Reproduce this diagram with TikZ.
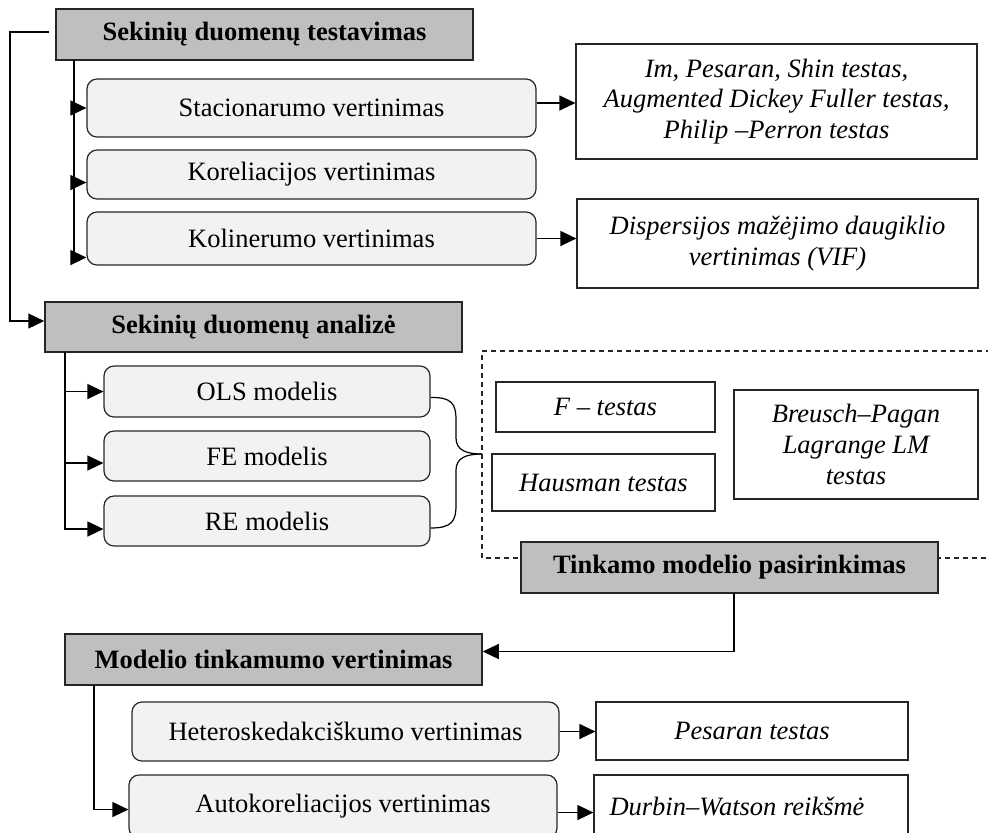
\documentclass[tikz,border=0pt]{standalone}
\usepackage{fontspec}
\setmainfont{Liberation Serif}
\usetikzlibrary{arrows.meta,calc}
\definecolor{headfill}{HTML}{BFBFBF}
\definecolor{stepfill}{HTML}{F2F2F2}
\definecolor{edge}{HTML}{262626}
\newcommand\dsize{\fontsize{13.25}{15.3}\selectfont}
% \pbox{name}{style}{x1}{y1}{x2}{y2}{text}: box spanning two corners
\newcommand\pbox[7]{\node[#2, minimum width={(#5-#3)*0.5pt}, minimum height={(#6-#4)*0.5pt}] (#1) at ({(#3+#5)/2},{(#4+#6)/2}) {#7};}
\begin{document}
\begin{tikzpicture}[x=0.5pt,y=-0.5pt,
  headbox/.style={draw=edge, fill=headfill, line width=0.75pt, inner sep=0pt, font=\dsize\bfseries},
  stepbox/.style={draw=edge, fill=stepfill, rounded corners=5pt, line width=0.6pt, inner sep=0pt, font=\dsize},
  testbox/.style={draw=edge, fill=white, line width=0.6pt, inner sep=0pt, align=center, font=\dsize\itshape},
  conn/.style={draw=black, line width=0.6pt},
  arr/.style={conn, -{Triangle[length=8pt,width=7.5pt]}},
  frame/.style={draw=edge, line width=0.6pt, dash pattern=on 2.5pt off 2pt}]
\useasboundingbox (0,0) rectangle (988,832);

% --- data testing block
\pbox{t1}{headbox}{56}{9}{473}{60}{Sekinių duomenų testavimas}
\pbox{s1}{stepbox}{87}{79}{536}{137}{Stacionarumo vertinimas}
\pbox{s2}{stepbox}{87}{150}{536}{199}{Koreliacijos vertinimas}
\pbox{s3}{stepbox}{87}{212}{536}{265}{Kolinerumo vertinimas}
\pbox{r1}{testbox}{576}{44}{977}{159}{Im, Pesaran, Shin testas,\\Augmented Dickey Fuller testas,\\Philip –Perron testas}
\pbox{r2}{testbox}{577}{199}{978}{288}{Dispersijos mažėjimo daugiklio\\vertinimas (VIF)}

\coordinate (j1) at (74,60);
\draw[arr] (j1) |- (s1.west);
\draw[arr] (j1) |- ([yshift=-4pt]s2.west);
\draw[arr] (j1) |- ([yshift=-9.5pt]s3.west);
\draw[arr] ([yshift=2.5pt]s1.east) -- ([yshift=2.5pt]s1.east -| r1.west);
\draw[arr] (s3.east) -- (s3.east -| r2.west);

% --- data analysis block
\pbox{t2}{headbox}{45}{302}{462}{352}{Sekinių duomenų analizė}
\coordinate (lp) at (49,32);
\draw[arr] (lp) -- (10,32) |- ([yshift=3pt]t2.west);

\pbox{m1}{stepbox}{104}{366}{430}{417}{OLS modelis}
\pbox{m2}{stepbox}{104}{431}{430}{481}{FE modelis}
\pbox{m3}{stepbox}{104}{496}{430}{546}{RE modelis}
\coordinate (j2) at (65,352);
\draw[arr] (j2) |- (m1.west);
\draw[arr] (j2) |- ([yshift=-3.5pt]m2.west);
\draw[arr] (j2) |- ([yshift=-4pt]m3.west);

% model selection tests
\draw[frame] (1000,351) -- (482,351) -- (482,558) -- (1000,558);
\pbox{f}{testbox}{496}{382}{715}{432}{F – testas}
\pbox{h}{testbox}{492}{454}{715}{511}{Hausman testas}
\pbox{b}{testbox}{734}{390}{978}{499}{Breusch–Pagan\\Lagrange LM\\testas}

\coordinate (bt) at (482,454);
\draw[conn] ([yshift=-3pt]m1.east) .. controls (452,397) and (456,404) .. (456,420) -- (456,438) .. controls (456,450) and (466,454) .. (bt);
\draw[conn] ([yshift=-3.5pt]m3.east) .. controls (452,528) and (456,521) .. (456,505) -- (456,470) .. controls (456,458) and (466,454) .. (bt);

\pbox{t3}{headbox}{521}{542}{938}{593}{Tinkamo modelio pasirinkimas}

% --- model adequacy block
\pbox{t4}{headbox}{65}{634}{482}{685}{Modelio tinkamumo vertinimas}
\coordinate (j3) at (734,593);
\draw[arr] (j3) |- ([yshift=4pt]t4.east);

\pbox{e1}{stepbox}{132}{702}{559}{761}{Heteroskedakciškumo vertinimas}
\pbox{e2}{stepbox}{129}{775}{557}{838}{Autokoreliacijos vertinimas}
\pbox{p1}{testbox}{596}{702}{908}{760}{Pesaran testas}
\pbox{p2}{testbox}{594}{775}{908}{838}{\hspace*{-14pt}Durbin–Watson reikšmė}

\coordinate (j4) at (94,685);
\draw[arr] (j4) |- ([yshift=-1.5pt]e2.west);
\draw[arr] (e1.east) -- (e1.east -| p1.west);
\draw[arr] ([yshift=-3pt]e2.east) -- ([yshift=-3pt]e2.east -| p2.west);
\end{tikzpicture}
\end{document}
